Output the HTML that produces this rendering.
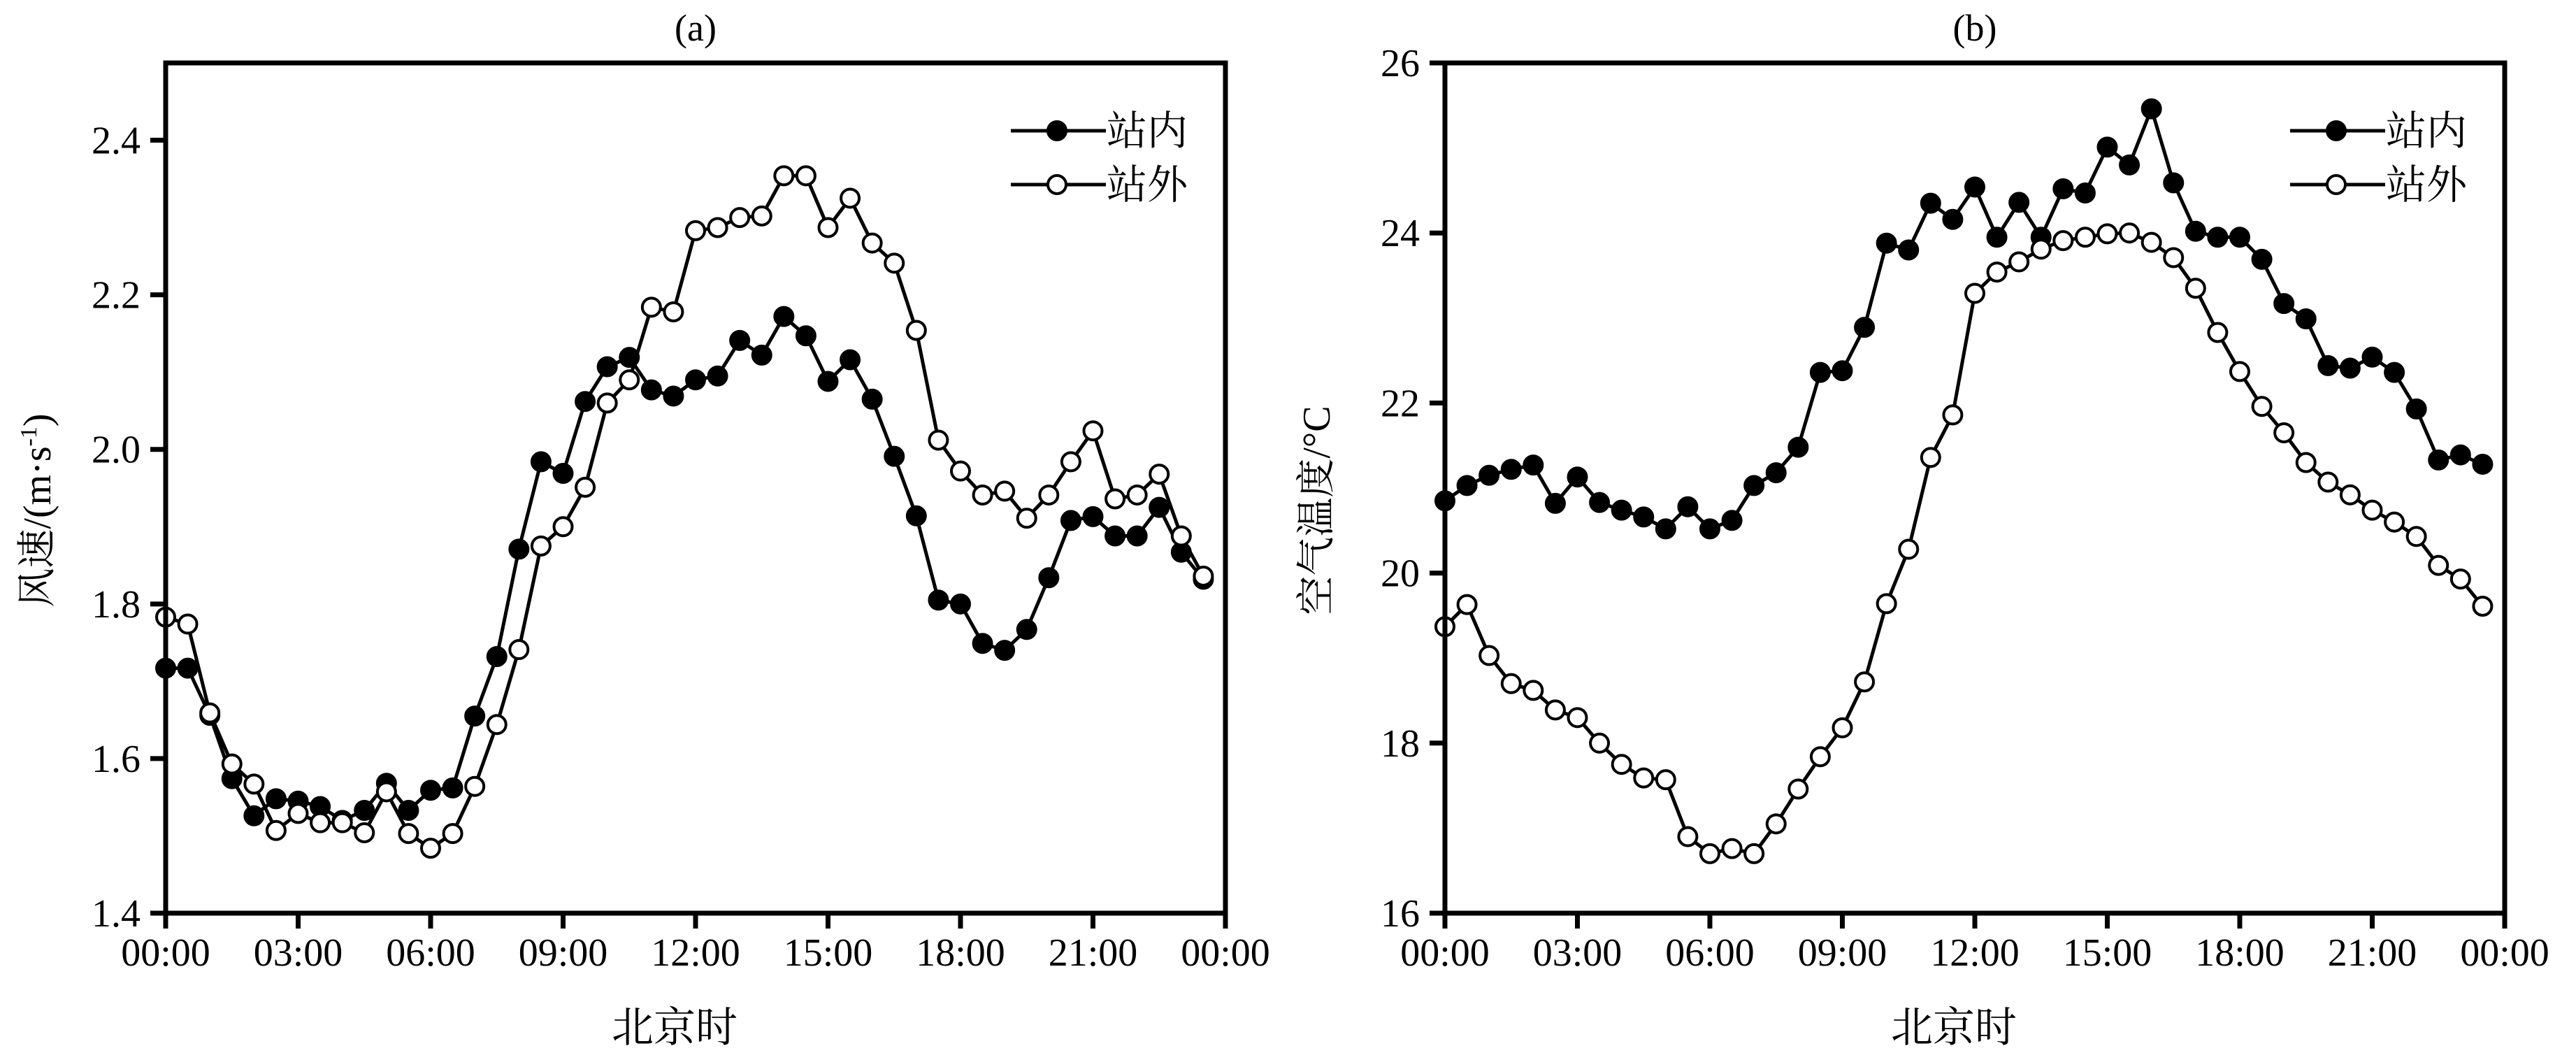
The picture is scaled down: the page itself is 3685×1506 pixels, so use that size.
<!DOCTYPE html>
<html><head><meta charset="utf-8">
<style>
html,body{margin:0;padding:0;background:#fff;}
svg{display:block;}
</style></head>
<body>
<svg id="s" width="3685" height="1506" viewBox="0 0 3685 1506" xmlns="http://www.w3.org/2000/svg" font-family="'Liberation Serif', 'Noto Serif CJK SC', serif">
<rect width="3685" height="1506" fill="#fff"/>
<g id="g"></g>
</svg>
<script>
var NS="http://www.w3.org/2000/svg";
var FF="'Liberation Serif', 'Noto Serif CJK SC', 'Noto Sans CJK SC', serif";
var g=document.getElementById('g');
function el(n,a,t){var e=document.createElementNS(NS,n);for(var k in a)e.setAttribute(k,a[k]);if(n==='text'){e.setAttribute('font-family',FF);e.setAttribute('fill','#000');}if(t!==undefined)e.textContent=t;g.appendChild(e);return e;}
var T=90,B=1306;
var aIn=[1.717,1.717,1.656,1.574,1.526,1.548,1.545,1.538,1.52,1.533,1.568,1.533,1.559,1.562,1.655,1.732,1.871,1.984,1.969,2.062,2.107,2.119,2.077,2.069,2.090,2.095,2.141,2.122,2.172,2.147,2.088,2.116,2.065,1.991,1.914,1.805,1.800,1.749,1.740,1.767,1.834,1.908,1.913,1.888,1.888,1.925,1.867,1.832];
var aOut=[1.783,1.774,1.659,1.593,1.567,1.507,1.529,1.517,1.517,1.504,1.557,1.503,1.484,1.503,1.564,1.644,1.741,1.875,1.900,1.951,2.060,2.090,2.184,2.178,2.283,2.287,2.300,2.302,2.354,2.354,2.287,2.325,2.267,2.241,2.154,2.012,1.972,1.941,1.946,1.911,1.941,1.984,2.024,1.936,1.941,1.968,1.888,1.836];
var bIn=[20.85,21.03,21.15,21.22,21.27,20.82,21.13,20.83,20.74,20.66,20.52,20.78,20.52,20.62,21.03,21.18,21.48,22.36,22.38,22.89,23.88,23.80,24.35,24.16,24.54,23.95,24.36,23.95,24.52,24.47,25.01,24.80,25.46,24.59,24.02,23.95,23.95,23.69,23.17,22.99,22.44,22.41,22.54,22.36,21.93,21.33,21.39,21.28];
var bOut=[19.37,19.63,19.03,18.70,18.62,18.39,18.30,18.00,17.75,17.59,17.57,16.90,16.70,16.76,16.70,17.05,17.46,17.84,18.18,18.72,19.64,20.28,21.36,21.86,23.29,23.54,23.66,23.81,23.91,23.95,23.99,24.00,23.89,23.71,23.35,22.83,22.37,21.96,21.65,21.30,21.07,20.92,20.74,20.60,20.43,20.09,19.93,19.61];
function panel(L,ymin,ymax,yt,fmt,title,ylab,dIn,dOut,ylabX){
  var W=1516,H=B-T;
  var sx=function(i){return L+i*0.5*W/24;};
  var sy=function(v){return B-(v-ymin)/(ymax-ymin)*H;};
  for(var k=0;k<=8;k++){var x=L+k*W/8;el('line',{x1:x,y1:B,x2:x,y2:B+22,stroke:'#000','stroke-width':7});
    var lab=['00:00','03:00','06:00','09:00','12:00','15:00','18:00','21:00','00:00'][k];
    el('text',{x:x,y:1381,'font-size':56,'text-anchor':'middle'},lab);}
  yt.forEach(function(v){var y=sy(v);el('line',{x1:L-22,y1:y,x2:L,y2:y,stroke:'#000','stroke-width':7});
    el('text',{x:L-36,y:y+19,'font-size':56,'text-anchor':'end'},fmt(v));});
  function series(d,fill){var p=d.map(function(v,i){return sx(i).toFixed(1)+','+sy(v).toFixed(1);}).join(' ');
    el('polyline',{points:p,fill:'none',stroke:'#000','stroke-width':5});
    d.forEach(function(v,i){el('circle',{cx:sx(i),cy:sy(v),r:13,fill:fill,stroke:'#000','stroke-width':4});});}
  series(dIn,'#000');series(dOut,'#fff');
  el('rect',{x:L,y:T,width:W,height:H,fill:'none',stroke:'#000','stroke-width':7});
  var lx=L+1209;
  [[187,'#000','站内'],[264,'#fff','站外']].forEach(function(r){
    el('line',{x1:lx,y1:r[0],x2:lx+136,y2:r[0],stroke:'#000','stroke-width':5});
    el('circle',{cx:lx+66,cy:r[0],r:13,fill:r[1],stroke:'#000','stroke-width':4});
    el('text',{x:lx+137,y:r[0]+20,'font-size':58},r[2]);});
  el('text',{x:L+W/2,y:58,'font-size':54,'text-anchor':'middle'},title);
  el('text',{x:L+W/2-30,y:1490,'font-size':60,'text-anchor':'middle'},'北京时');
  var t=el('text',{x:0,y:0,'font-size':56,'text-anchor':'middle',transform:'translate('+ylabX+',730) rotate(-90)'});
  t.innerHTML=ylab;
}
panel(237,1.4,2.5,[1.4,1.6,1.8,2.0,2.2,2.4],function(v){return v.toFixed(1);},'(a)','风速/(m·s<tspan font-size="34" dy="-20">-1</tspan><tspan dy="20">)</tspan>',aIn,aOut,72);
panel(2067,16,26,[16,18,20,22,24,26],function(v){return String(v);},'(b)','空气温度/°C',bIn,bOut,1902);
</script>
</body></html>
